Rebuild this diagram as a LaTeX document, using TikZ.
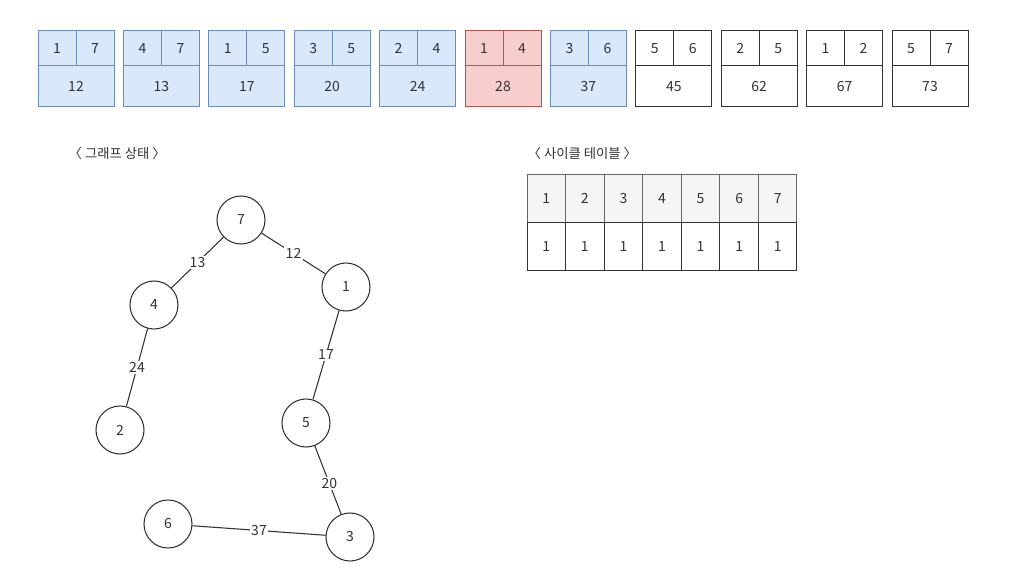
\documentclass[tikz,border=0pt]{standalone}
\usepackage{fontspec}
\setmainfont{Noto Sans CJK KR}
\usetikzlibrary{positioning}

\definecolor{donefill}{HTML}{DAE8FC}
\definecolor{doneline}{HTML}{6C8EBF}
\definecolor{curfill}{HTML}{F8CECC}
\definecolor{curline}{HTML}{B85450}
\definecolor{headfill}{HTML}{F5F5F5}
\definecolor{headline}{HTML}{666666}
\definecolor{ink}{HTML}{333333}

\def\px{0.75pt}

\tikzset{
  cell/.style={draw, line width=0.75pt, inner sep=0pt, text height=7.5pt, text depth=0pt, text=ink, font=\fontsize{10.5}{12}\selectfont},
  done/.style={cell, fill=donefill, draw=doneline},
  cur/.style={cell, fill=curfill, draw=curline},
  todo/.style={cell, fill=white, draw=ink},
  vertex/.style={circle, draw=ink, line width=0.8pt, minimum size=48*\px, inner sep=0pt, text=ink, font=\fontsize{10.5}{12}\selectfont},
  weight/.style={midway, fill=white, inner sep=1pt, text=ink, font=\fontsize{10.5}{12}\selectfont},
  title/.style={anchor=west, text=ink, font=\fontsize{10}{12}\selectfont}
}

\begin{document}
\begin{tikzpicture}[x=\px, y=-\px]

      \useasboundingbox (0,0) rectangle (1025,581);

      % 간선 목록 (정렬된 가중치)
      \foreach \a/\b/\w/\s [count=\i from 0] in {1/7/12/done, 4/7/13/done, 1/5/17/done, 3/5/20/done, 2/4/24/done, 1/4/28/cur, 3/6/37/done, 5/6/45/todo, 2/5/62/todo, 1/2/67/todo, 5/7/73/todo}{
        \pgfmathsetmacro\x{38+85.4*\i}
        \node[\s, minimum width=38*\px, minimum height=35*\px] (e\i-a) at (\x+19, 48.5) {\a};
        \node[\s, minimum width=38*\px, minimum height=35*\px] (e\i-b) at (\x+57, 48.5) {\b};
        \node[\s, minimum width=76*\px, minimum height=41*\px] (e\i-w) at (\x+38, 86.5) {\w};
      }

      % 제목
      \node[title] (graph-title) at (64, 153) {〈 그래프 상태 〉};
      \node[title] (table-title) at (523, 153) {〈 사이클 테이블 〉};

      % 사이클 테이블
      \foreach \i in {1,...,7}{
        \pgfmathsetmacro\x{527+38.57*(\i-0.5)}
        \node[cell, fill=headfill, draw=headline, minimum width=38.57*\px, minimum height=48*\px] (t-h\i) at (\x, 199) {\i};
        \node[todo, minimum width=38.57*\px, minimum height=47*\px] (t-v\i) at (\x, 246.5) {1};
      }

      % 그래프 정점
      \node[vertex] (v7) at (241, 220) {7};
      \node[vertex] (v4) at (154, 305) {4};
      \node[vertex] (v1) at (346, 287) {1};
      \node[vertex] (v2) at (120, 430) {2};
      \node[vertex] (v5) at (306, 423) {5};
      \node[vertex] (v6) at (168, 524) {6};
      \node[vertex] (v3) at (350, 537) {3};

      % 그래프 간선
      \draw[ink, line width=0.8pt] (v7) -- node[weight] {13} (v4);
      \draw[ink, line width=0.8pt] (v7) -- node[weight] {12} (v1);
      \draw[ink, line width=0.8pt] (v4) -- node[weight] {24} (v2);
      \draw[ink, line width=0.8pt] (v1) -- node[weight] {17} (v5);
      \draw[ink, line width=0.8pt] (v5) -- node[weight, pos=0.55] {20} (v3);
      \draw[ink, line width=0.8pt] (v6) -- node[weight] {37} (v3);

\end{tikzpicture}
\end{document}
